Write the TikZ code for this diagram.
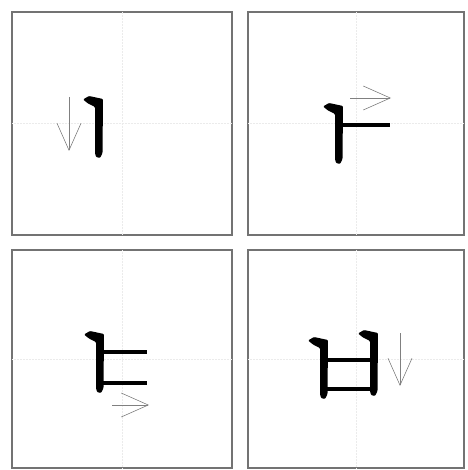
\documentclass[tikz,border=0pt]{standalone}
\usetikzlibrary{arrows.meta}

\newcommand{\jamostem}[3]{%
  \fill[rounded corners=1pt] (#1-12,#2+0.5) -- (#1-6,#2-3) -- (#1+8,#2) -- (#1+7.5,#3-5) -- (#1+5,#3) -- (#1+1,#3-1) -- (#1,#3-5) -- (#1,#2+8) -- (#1-7,#2+4.5) -- cycle;}

\tikzset{
  cell/.style={draw=black!55,line width=1.8pt},
  guide/.style={draw=black!8,densely dotted,line width=0.5pt},
  hint/.style={draw=black!50,line width=0.6pt,-{Straight Barb[length=27pt,width=24pt]}},
  bar/.style={line width=4.2pt}
}

\begin{document}
\begin{tikzpicture}[x=1pt,y=-1pt]
\useasboundingbox (0,0) rectangle (467,470);

% cells
\draw[cell] (12,12) rectangle (232,235);
\draw[cell] (248,12) rectangle (464,235);
\draw[cell] (12,250) rectangle (232,468);
\draw[cell] (248,250) rectangle (464,468);

% centre guides
\foreach \xa/\xb/\ya/\yb in {12/232/12/235, 248/464/12/235, 12/232/250/468, 248/464/250/468}
  \draw[guide] ({(\xa+\xb)/2},\ya) -- ({(\xa+\xb)/2},\yb) (\xa,{(\ya+\yb)/2}) -- (\xb,{(\ya+\yb)/2});

% stroke 1
\jamostem{95}{99}{158}
\draw[hint] (69,97) -- (69,151);

% stroke 2
\jamostem{335}{106}{164}
\draw[bar] (340,125) -- (390,125);
\draw[hint] (350,98) -- (391,98);

% stroke 3
\jamostem{96}{334}{393}
\draw[bar] (100,352) -- (147,352);
\draw[bar] (100,383) -- (147,383);
\draw[hint] (112,405) -- (149,405);

% stroke 4
\jamostem{320}{340}{399}
\jamostem{370}{333}{396}
\draw[bar] (325,360) -- (373,360);
\draw[bar] (325,389) -- (373,389);
\draw[hint] (400,333) -- (400,386);
\end{tikzpicture}
\end{document}
